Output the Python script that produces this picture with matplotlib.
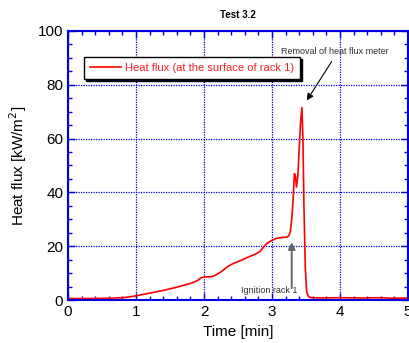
import matplotlib
matplotlib.use("Agg")
import matplotlib.pyplot as plt
from matplotlib.ticker import MultipleLocator

plt.rcParams['font.family'] = ['Liberation Sans', 'DejaVu Sans']

# time [min] and heat flux [kW/m2]
time = [0.0, 0.3, 0.6, 0.8, 0.9, 1.0, 1.2, 1.4, 1.6, 1.8, 1.9, 1.95, 2.0, 2.1, 2.15,
        2.25, 2.35, 2.43, 2.55, 2.65, 2.75, 2.82, 2.87, 2.92, 3.0, 3.07, 3.15, 3.22,
        3.25, 3.27, 3.29, 3.31, 3.33, 3.345, 3.36, 3.38, 3.40, 3.42, 3.44, 3.455,
        3.47, 3.49, 3.51, 3.54, 3.58, 3.7, 4.0, 4.3, 4.6, 4.8, 5.0]
flux = [0.6, 0.6, 0.7, 0.9, 1.2, 1.6, 2.6, 3.6, 4.8, 6.2, 7.2, 8.2, 8.6, 8.7, 9.0,
        10.5, 12.5, 13.6, 14.8, 16.0, 17.0, 18.0, 19.5, 21.0, 22.2, 23.0, 23.3, 23.4,
        24.0, 25.5, 30.0, 37.0, 47.0, 46.0, 42.0, 46.0, 56.0, 66.0, 71.5, 60.0,
        35.0, 12.0, 3.0, 1.2, 0.9, 0.8, 0.9, 0.8, 0.9, 0.7, 0.8]

blue = "#0000dd"

fig = plt.figure(figsize=(4.1, 3.43), dpi=100)
ax = fig.add_axes([0.166, 0.125, 0.829, 0.785])

ax.plot(time, flux, color="red", lw=1.2, label="Heat flux (at the surface of rack 1)")

ax.set_xlim(0, 5)
ax.set_ylim(0, 100)
ax.xaxis.set_major_locator(MultipleLocator(1))
ax.xaxis.set_minor_locator(MultipleLocator(0.2))
ax.yaxis.set_major_locator(MultipleLocator(20))
ax.yaxis.set_minor_locator(MultipleLocator(5))
ax.tick_params(which="both", direction="in", color=blue, top=True, right=True, labelsize=11)
ax.tick_params(which="major", length=5, width=1)
ax.tick_params(which="minor", length=3, width=1)
for s in ax.spines.values():
    s.set_color(blue)
    s.set_linewidth(1.5)
ax.grid(True, which="major", color=blue, ls=(0, (1, 1)), lw=0.9)

ax.set_xlabel("Time [min]", fontsize=11, labelpad=4)
ax.set_ylabel("Heat flux [kW/m$^2$]", fontsize=11, labelpad=6)
ax.set_title("Test 3.2", fontsize=7, fontweight="bold", pad=9)

leg = ax.legend(loc="upper left", bbox_to_anchor=(0.047, 0.903), borderaxespad=0,
                fontsize=8, frameon=True, fancybox=False,
                shadow={'color': 'black', 'alpha': 1, 'ox': 1.5, 'oy': -1.5},
                handlelength=2.8, borderpad=0.55, handletextpad=0.3)
leg.get_frame().set_edgecolor("black")
leg.get_frame().set_linewidth(1)
for t in leg.get_texts():
    t.set_color("#ee2222")

ax.text(3.92, 92.3, "Removal of heat flux meter", fontsize=6.5, ha="center", va="center",
        color="#333333")
ax.annotate("", xy=(3.49, 73.3), xytext=(3.90, 89.5),
            arrowprops=dict(arrowstyle="-|>", color="black", lw=0.8, mutation_scale=10))
ax.annotate("", xy=(3.29, 21.5), xytext=(3.29, 4.5),
            arrowprops=dict(arrowstyle="-|>", color="#666666", lw=1.4,
                            mutation_scale=10, shrinkA=0, shrinkB=0))
ax.text(2.96, 3.5, "Ignition rack 1", fontsize=6.5, ha="center", va="center",
        color="#333333")

fig.savefig("out.png", dpi=100)
